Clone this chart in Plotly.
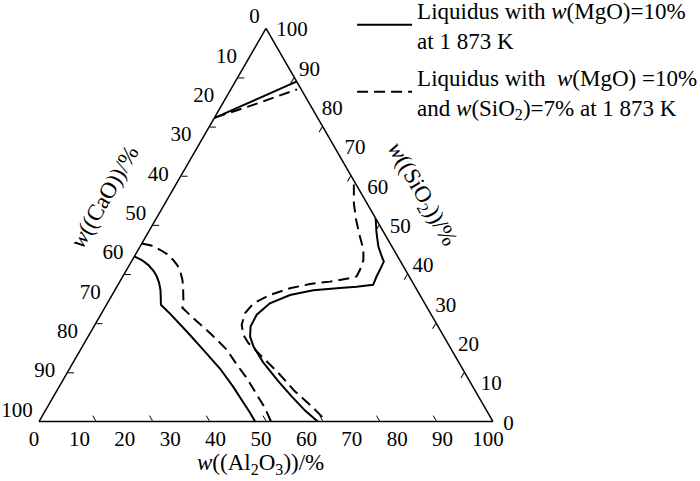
import plotly.graph_objects as go

# ---------------- data (mass %) ----------------
# Solid: liquidus with w(MgO)=10% at 1873 K
top_solid_SiO2 = [77.2, 80.1, 82.9, 85.2, 86.5]
top_solid_CaO = [22.8, 15.7, 8.8, 3.2, 0.0]
top_solid_Al2O3 = [0.0, 4.2, 8.3, 11.6, 13.5]

left_solid_SiO2 = [42.0, 41.1, 39.8, 38.3, 36.9, 35.3, 33.5, 31.5, 29.7, 27.4, 22.9,
                   18.3, 13.5, 8.9, 4.6, 2.3, 0.0]
left_solid_CaO = [58.0, 56.8, 56.0, 55.6, 55.6, 55.9, 56.5, 57.5, 58.3, 57.4, 56.0,
                  54.7, 53.4, 52.8, 52.6, 52.4, 52.4]
left_solid_Al2O3 = [0.0, 2.1, 4.2, 6.1, 7.5, 8.8, 10.0, 11.1, 12.0, 15.2, 21.1,
                    27.0, 33.1, 38.3, 42.9, 45.3, 47.6]

right_solid_SiO2 = [51.7, 47.9, 44.5, 42.0, 40.7, 38.6, 36.9, 34.8, 34.3, 34.0, 33.4,
                    32.2, 30.1, 27.2, 24.2, 21.6, 19.1, 15.2, 10.4, 6.3, 2.8, 0.0]
right_solid_CaO = [0.0, 1.7, 3.0, 3.5, 3.7, 5.6, 7.2, 9.0, 12.9, 16.7, 22.9,
                   28.6, 34.1, 38.5, 41.3, 42.7, 43.2, 43.1, 42.2, 41.1, 40.0, 38.6]
right_solid_Al2O3 = [48.3, 50.4, 52.5, 54.5, 55.6, 55.8, 55.9, 56.2, 52.8, 49.3, 43.7,
                     39.2, 35.8, 34.4, 34.5, 35.7, 37.7, 41.7, 47.4, 52.6, 57.2, 61.4]

# Dashed: liquidus with w(MgO)=10% and w(SiO2)=7% at 1873 K
top_dash_SiO2 = [77.3, 80.8, 84.5]
top_dash_CaO = [22.6, 11.8, 0.9]
top_dash_Al2O3 = [0.1, 7.4, 14.6]

left_dash_SiO2 = [45.3, 44.8, 43.7, 42.6, 41.1, 39.7, 38.1, 36.0, 33.5, 31.0, 28.9,
                  25.5, 22.1, 18.3, 14.5, 11.1, 6.9, 3.5, 0.0]
left_dash_CaO = [54.7, 52.9, 51.5, 50.5, 49.9, 49.6, 49.8, 50.4, 51.5, 52.7, 53.9,
                 52.5, 50.9, 49.5, 49.2, 48.7, 48.6, 48.5, 48.9]
left_dash_Al2O3 = [0.0, 2.3, 4.8, 6.9, 9.0, 10.6, 12.1, 13.6, 15.0, 16.3, 17.1,
                   22.0, 27.0, 32.2, 36.3, 40.2, 44.5, 48.0, 51.1]

right_dash_SiO2 = [60.3, 55.5, 51.3, 47.0, 43.7, 41.1, 38.6, 36.9, 36.5, 35.6, 35.0,
                   33.9, 32.2, 30.1, 27.6, 24.6, 22.1, 20.0, 16.6, 12.4, 7.7, 3.9, 0.0]
right_dash_CaO = [0.5, 2.9, 4.5, 5.8, 6.7, 8.0, 10.0, 11.6, 13.3, 18.1, 22.8,
                  27.8, 33.0, 37.7, 40.8, 43.0, 44.0, 43.9, 42.7, 41.1, 39.8, 38.0, 36.6]
right_dash_Al2O3 = [39.2, 41.6, 44.2, 47.2, 49.6, 50.9, 51.4, 51.5, 50.3, 46.3, 42.2,
                    38.3, 34.8, 32.2, 31.6, 32.3, 34.0, 36.1, 40.8, 46.5, 52.5, 58.1, 63.4]

# tick labels (every 10 %) and tick marks (every 12.5 %, as in the original drawing)
label_values = [0, 10, 20, 30, 40, 50, 60, 70, 80, 90, 100]
label_texts = ["100", "90", "80", "70", "60", "50", "40", "30", "20", "10", "0"]
mark_values = [12.5, 25, 37.5, 50, 62.5, 75, 87.5]

solid_name = "Liquidus with <i>w</i>(MgO)=10%<br>at 1 873 K"
dash_name = "Liquidus with\u00a0 <i>w</i>(MgO) =10%<br>and <i>w</i>(SiO<sub>2</sub>)=7% at 1 873 K"

FONT = "Liberation Serif, Times New Roman, serif"
W, H = 700, 481

fig = go.Figure()

solid_curves = [
    (top_solid_SiO2, top_solid_CaO, top_solid_Al2O3),
    (left_solid_SiO2, left_solid_CaO, left_solid_Al2O3),
    (right_solid_SiO2, right_solid_CaO, right_solid_Al2O3),
]
dash_curves = [
    (top_dash_SiO2, top_dash_CaO, top_dash_Al2O3),
    (left_dash_SiO2, left_dash_CaO, left_dash_Al2O3),
    (right_dash_SiO2, right_dash_CaO, right_dash_Al2O3),
]

for i, (s, ca, al) in enumerate(solid_curves):
    fig.add_trace(go.Scatterternary(
        a=s, b=ca, c=al, mode="lines", subplot="ternary",
        line=dict(color="black", width=2),
        name=solid_name, legendgroup="solid", showlegend=(i == 0),
    ))
for i, (s, ca, al) in enumerate(dash_curves):
    fig.add_trace(go.Scatterternary(
        a=s, b=ca, c=al, mode="lines", subplot="ternary",
        line=dict(color="black", width=2, dash="11px,6px"),
        name=dash_name, legendgroup="dash", showlegend=(i == 0),
    ))

# empty traces so that the three tick-label layers are drawn
for sp in ["ternary2", "ternary3", "ternary4"]:
    fig.add_trace(go.Scatterternary(a=[], b=[], c=[], mode="lines", subplot=sp,
                                    showlegend=False, hoverinfo="skip"))


def dom(dx=0, dy=0):
    # triangle frame: 39..493 px wide, 28..422 px tall (dy > 0 moves up)
    return dict(x=[(39 + dx) / W, (493 + dx) / W], y=[(59 + dy) / H, (453 + dy) / H])


mark_axis = dict(
    title=dict(text=""), showgrid=False, showline=True, linecolor="black", linewidth=1.5,
    tickmode="array", tickvals=mark_values, ticks="inside", ticklen=6,
    tickwidth=1.2, tickcolor="black", showticklabels=False, min=0,
)
blank_axis = dict(title=dict(text=""), showgrid=False, showline=False, ticks="",
                  showticklabels=False, min=0)


def label_axis(tlen):
    return dict(
        title=dict(text=""), showgrid=False, showline=False,
        tickmode="array", tickvals=label_values, ticktext=label_texts,
        ticks="outside", ticklen=tlen, tickcolor="rgba(0,0,0,0)",
        showticklabels=True, tickfont=dict(family=FONT, size=21, color="black"), min=0,
    )


clear = "rgba(0,0,0,0)"
fig.update_layout(
    width=W, height=H,
    margin=dict(l=0, r=0, t=0, b=0, autoexpand=False),
    paper_bgcolor="white",
    font=dict(family=FONT, size=21, color="black"),
    ternary=dict(domain=dom(), sum=100, bgcolor="white",
                 aaxis=mark_axis, baxis=mark_axis, caxis=mark_axis),
    # label layers (CaO on the left, Al2O3 at the bottom, SiO2 on the right)
    ternary2=dict(domain=dom(3, 10), sum=100, bgcolor=clear,
                  aaxis=label_axis(6), baxis=blank_axis, caxis=blank_axis),
    ternary3=dict(domain=dom(-5, 2), sum=100, bgcolor=clear,
                  aaxis=blank_axis, baxis=label_axis(0), caxis=blank_axis),
    ternary4=dict(domain=dom(3, -10), sum=100, bgcolor=clear,
                  aaxis=blank_axis, baxis=blank_axis, caxis=label_axis(8)),
    legend=dict(x=0.503, y=1.024, xanchor="left", yanchor="top",
                bgcolor=clear, font=dict(family=FONT, size=23, color="black"),
                tracegroupgap=4, traceorder="grouped", itemwidth=55),
    showlegend=True,
)

fig.add_annotation(text="<i>w</i>((Al<sub>2</sub>O<sub>3</sub>))/%", xref="paper", yref="paper",
                   x=260 / W, y=1 - 464 / H, xanchor="center", yanchor="middle",
                   showarrow=False, font=dict(family=FONT, size=23, color="black"))
fig.add_annotation(text="<i>w</i>((CaO))/%", xref="paper", yref="paper",
                   x=105 / W, y=1 - 197 / H, xanchor="center", yanchor="middle",
                   showarrow=False, textangle=-60,
                   font=dict(family=FONT, size=23, color="black"))
fig.add_annotation(text="<i>w</i>((SiO<sub>2</sub>))/%", xref="paper", yref="paper",
                   x=421 / W, y=1 - 194 / H, xanchor="center", yanchor="middle",
                   showarrow=False, textangle=60,
                   font=dict(family=FONT, size=23, color="black"))

# the page body has a default 8px margin; remove it so the figure sits at the window origin
fig.write_html("out.html", config={"displayModeBar": False},
               post_script="document.body.style.margin='0px';")
